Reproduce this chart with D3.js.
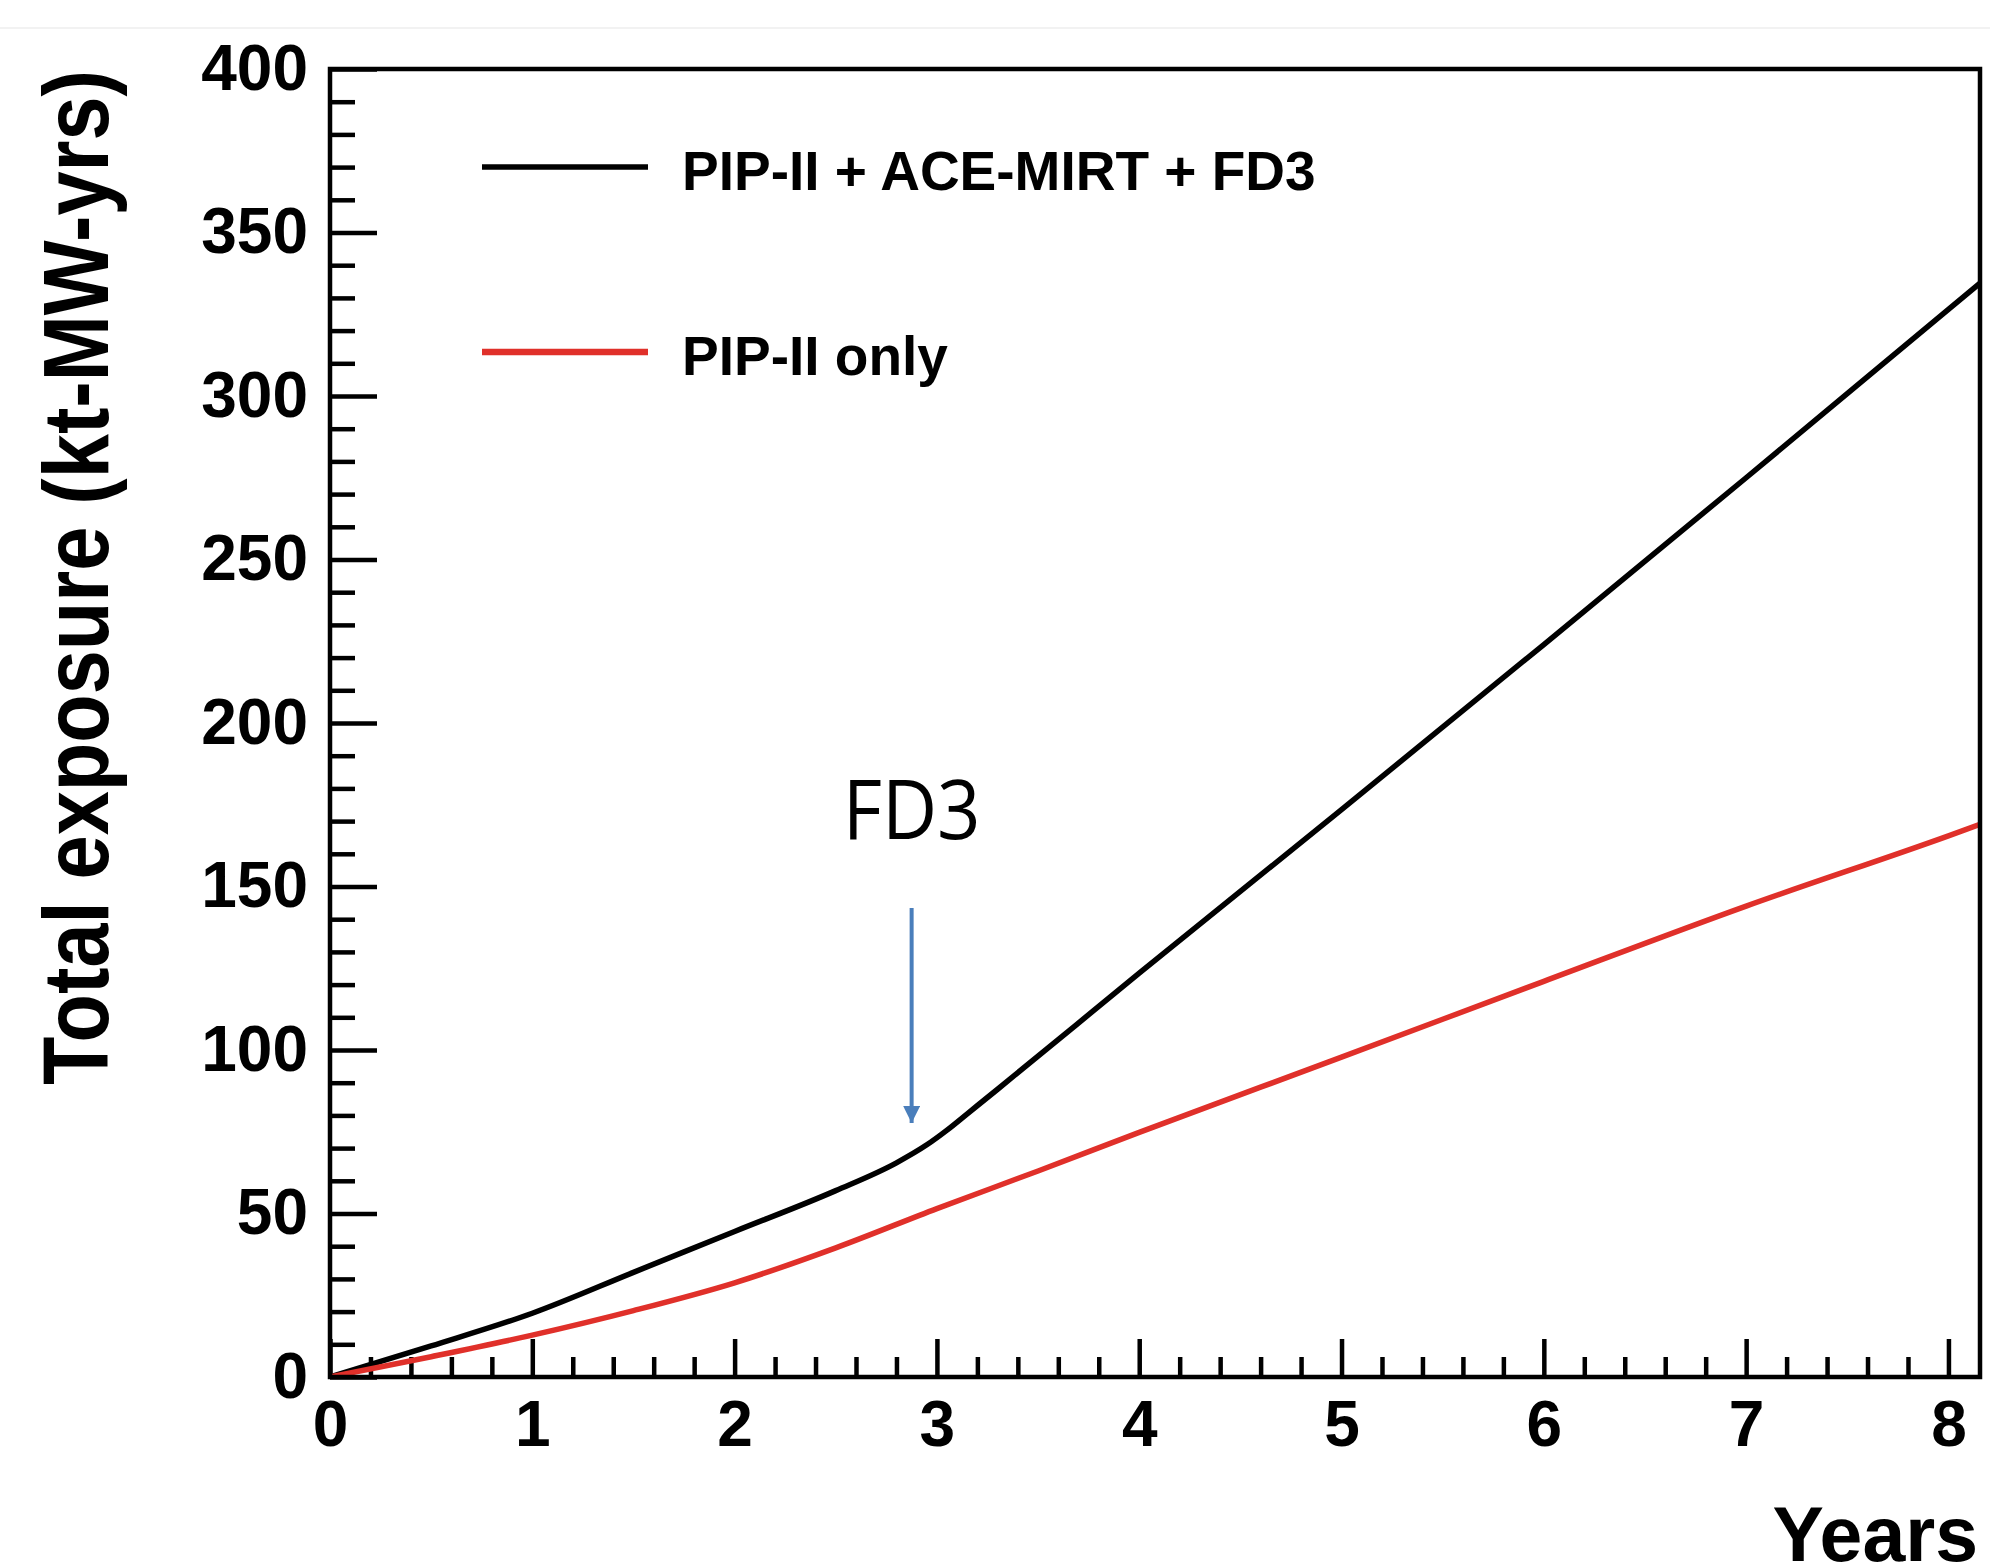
<!DOCTYPE html>
<html>
<head>
<meta charset="utf-8">
<script src="https://cdn.jsdelivr.net/npm/d3@7"></script>
<style>
  body { margin: 0; background: #fff; }
  .axis text { font-family: "Liberation Sans", Arial, sans-serif; font-weight: bold; font-size: 64px; fill: #000; }
  .axis line { stroke: #000; stroke-width: 4.5px; }
  .axis path { display: none; }
</style>
</head>
<body>
<div class="exposure_chart"></div>
<script>
var svgWidth = 1990;
var svgHeight = 1567;

var margin = { top: 69, right: 10, bottom: 190, left: 330 };
var width = svgWidth - margin.left - margin.right;
var height = svgHeight - margin.top - margin.bottom;

// data
var blackYears = [0, 0.5, 1, 1.5, 2, 2.5, 2.8, 2.95, 3.05, 3.15, 3.3, 4, 5, 6, 7, 8, 8.156];
var blackExposure = [0, 9.5, 19.5, 32, 44.5, 57, 65.5, 71, 75.5, 80.5, 88, 123.5, 173.5, 224, 275, 326.5, 334.5];
var redYears = [0, 0.5, 1, 1.5, 2, 2.5, 3, 3.5, 4, 5, 6, 7, 8, 8.156];
var redExposure = [0, 6.2, 12.8, 20.3, 28.8, 39.5, 51.5, 63, 74.8, 97.8, 121, 144, 165.5, 169];

var seriesNames = ["PIP-II + ACE-MIRT + FD3", "PIP-II only"];
var seriesColors = ["#000000", "#e0302a"];

var xTicks = [0, 1, 2, 3, 4, 5, 6, 7, 8];
var yTicks = [0, 50, 100, 150, 200, 250, 300, 350, 400];

// FD3 arrow annotation (data units)
var fd3Year = 2.875;
var fd3Top = 143.4;
var fd3Tip = 77.7;
var fd3LabelY = 164.5;

var svg = d3.select(".exposure_chart")
  .append("svg")
  .attr("width", svgWidth)
  .attr("height", svgHeight);

var chartGroup = svg.append("g")
  .attr("transform", `translate(${margin.left}, ${margin.top})`);

var xScale = d3.scaleLinear().domain([0, 8.156]).range([0, width]);
var yScale = d3.scaleLinear().domain([0, 400]).range([height, 0]);

// faint line at the top of the picture
svg.append("line")
  .attr("x1", 0).attr("x2", svgWidth)
  .attr("y1", 28).attr("y2", 28)
  .attr("stroke", "#f2f2f2")
  .attr("stroke-width", 2);

// minor ticks
var xMinor = d3.range(0, 8.15, 0.2).filter(v => Math.abs(v - Math.round(v)) > 0.01);
var yMinor = d3.range(0, 400, 10).filter(v => v % 50 !== 0);

chartGroup.append("g")
  .attr("class", "axis")
  .attr("transform", `translate(0,${height})`)
  .call(d3.axisBottom(xScale).tickValues(xMinor).tickSize(-20).tickFormat(""));

chartGroup.append("g")
  .attr("class", "axis")
  .call(d3.axisLeft(yScale).tickValues(yMinor).tickSize(-25).tickFormat(""));

// major ticks + labels
chartGroup.append("g")
  .attr("class", "axis")
  .attr("transform", `translate(0,${height})`)
  .call(d3.axisBottom(xScale).tickValues(xTicks).tickSize(-38).tickPadding(24).tickFormat(d3.format("d")));

chartGroup.append("g")
  .attr("class", "axis")
  .call(d3.axisLeft(yScale).tickValues(yTicks).tickSize(-47).tickPadding(22).tickFormat(d3.format("d")));

// clip for the curves
svg.append("defs").append("clipPath")
  .attr("id", "plotClip")
  .append("rect")
  .attr("width", width)
  .attr("height", height);

var line = d3.line()
  .x(d => xScale(d[0]))
  .y(d => yScale(d[1]))
  .curve(d3.curveMonotoneX);

var series = [
  d3.zip(blackYears, blackExposure),
  d3.zip(redYears, redExposure)
];

chartGroup.append("g")
  .attr("clip-path", "url(#plotClip)")
  .selectAll("path")
  .data(series)
  .enter()
  .append("path")
  .attr("d", line)
  .attr("fill", "none")
  .attr("stroke", (d, i) => seriesColors[i])
  .attr("stroke-width", 5.5)
  .attr("stroke-linejoin", "round");

// frame
chartGroup.append("rect")
  .attr("width", width)
  .attr("height", height)
  .attr("fill", "none")
  .attr("stroke", "#000")
  .attr("stroke-width", 4.5);

// legend
var legend = svg.append("g").attr("transform", "translate(482, 167)");
var legendRows = legend.selectAll("g")
  .data(seriesNames)
  .enter()
  .append("g")
  .attr("transform", (d, i) => `translate(0, ${i * 185})`);

legendRows.append("line")
  .attr("x1", 0).attr("x2", 166)
  .attr("y1", 0).attr("y2", 0)
  .attr("stroke", (d, i) => seriesColors[i])
  .attr("stroke-width", (d, i) => i === 0 ? 5.5 : 6.5);

legendRows.append("text")
  .attr("x", 200)
  .attr("y", 23)
  .style("font-family", "'Liberation Sans', Arial, sans-serif")
  .style("font-weight", "bold")
  .style("font-size", "55px")
  .text(d => d);

// axis titles
svg.append("text")
  .attr("transform", "translate(108, 1085) rotate(-90)")
  .attr("textLength", 1015)
  .attr("lengthAdjust", "spacingAndGlyphs")
  .style("font-family", "'Liberation Sans', Arial, sans-serif")
  .style("font-weight", "bold")
  .style("font-size", "92px")
  .text("Total exposure (kt-MW-yrs)");

svg.append("text")
  .attr("x", 1978)
  .attr("y", 1561)
  .attr("text-anchor", "end")
  .style("font-family", "'Liberation Sans', Arial, sans-serif")
  .style("font-weight", "bold")
  .style("font-size", "77px")
  .text("Years");

// FD3 annotation
var arrowColor = "#4a7ebb";
svg.append("defs").append("marker")
  .attr("id", "arrowHead")
  .attr("viewBox", "0 0 10 10")
  .attr("refX", 10).attr("refY", 5)
  .attr("markerUnits", "userSpaceOnUse")
  .attr("markerWidth", 17).attr("markerHeight", 17)
  .attr("orient", "auto")
  .append("path")
  .attr("d", "M0,0 L10,5 L0,10 Z")
  .attr("fill", arrowColor);

chartGroup.append("line")
  .attr("x1", xScale(fd3Year)).attr("x2", xScale(fd3Year))
  .attr("y1", yScale(fd3Top)).attr("y2", yScale(fd3Tip))
  .attr("stroke", arrowColor)
  .attr("stroke-width", 4)
  .attr("marker-end", "url(#arrowHead)");

chartGroup.append("text")
  .attr("x", xScale(fd3Year))
  .attr("y", yScale(fd3LabelY))
  .attr("text-anchor", "middle")
  .attr("textLength", 138)
  .attr("lengthAdjust", "spacingAndGlyphs")
  .style("font-family", "'Open Sans', 'Noto Sans', sans-serif")
  .style("font-size", "83px")
  .text("FD3");
</script>
</body>
</html>
